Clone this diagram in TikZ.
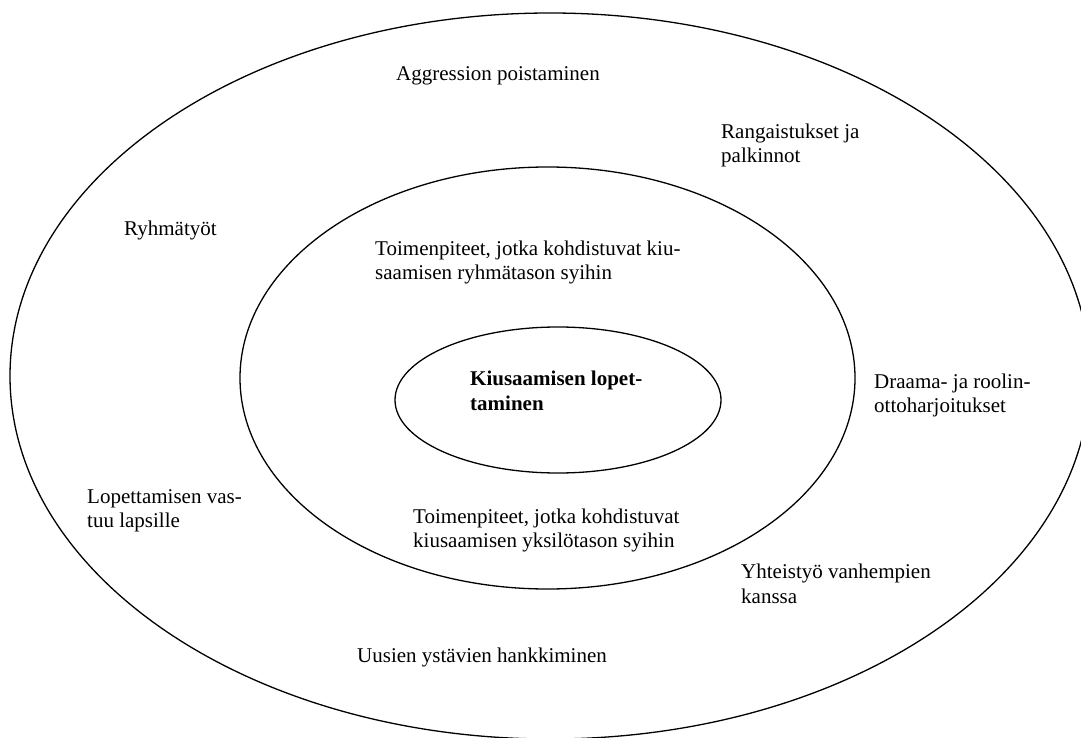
\documentclass[tikz,border=0pt]{standalone}
\usepackage{fontspec}
\setmainfont{Liberation Serif}
\usetikzlibrary{shapes.geometric}
\begin{document}
\begin{tikzpicture}[x=1pt,y=-1pt,
  ring/.style={draw, ellipse, line width=1.3pt, inner sep=0pt, outer sep=0pt},
  lbl/.style={anchor=base west, align=left, inner sep=0pt, font=\fontsize{21}{24.5}\selectfont}]
\useasboundingbox (0,0) rectangle (1081,738);
\clip (0,0) rectangle (1081,738);
\node[ring, minimum width=1080pt, minimum height=726pt] (outer) at (550,376) {};
\node[ring, minimum width=615pt, minimum height=422pt] (middle) at (547.5,378) {};
\node[ring, minimum width=326pt, minimum height=146pt] (inner) at (558,400) {};
% anchor "base" of a multi-line node is the baseline of its last line
\node[lbl] (aggr) at (396,81) {Aggression poistaminen};
\node[lbl] (rang) at (721,163) {Rangaistukset ja\\palkinnot};
\node[lbl] (ryhma) at (124,235) {Ryhmätyöt};
\node[lbl] (toim1) at (375,279.5) {Toimenpiteet, jotka kohdistuvat kiu-\\saamisen ryhmätason syihin};
\node[lbl, font=\fontsize{21}{24.5}\selectfont\bfseries] (kius) at (470,410) {Kiusaamisen lopet-\\taminen};
\node[lbl] (draama) at (874,412.5) {Draama- ja roolin-\\ottoharjoitukset};
\node[lbl] (lopet) at (87,527.5) {Lopettamisen vas-\\tuu lapsille};
\node[lbl] (toim2) at (413,547.5) {Toimenpiteet, jotka kohdistuvat\\kiusaamisen yksilötason syihin};
\node[lbl] (yht) at (741,603) {Yhteistyö vanhempien\\kanssa};
\node[lbl] (uus) at (357,662) {Uusien ystävien hankkiminen};
\end{tikzpicture}
\end{document}
